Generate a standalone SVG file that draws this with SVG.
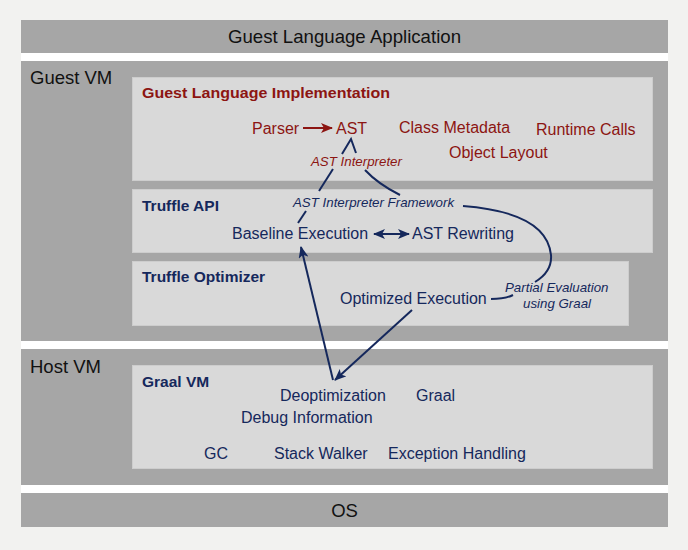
<svg xmlns="http://www.w3.org/2000/svg" width="688" height="550" viewBox="0 0 688 550">
<defs>
<style>
text{font-family:"Liberation Sans",Arial,sans-serif}
.band{fill:#a6a6a6}
.gap{fill:#ffffff}
.box{fill:#d9d9d9;stroke:#cdcdcd;stroke-width:1}
.big{font-size:18.5px;fill:#111}
.red{fill:#8c1512}
.navy{fill:#15285c}
.t15{font-size:16px}
.title{font-size:15.5px;font-weight:bold}
.it{font-size:13.3px;font-style:italic}
.ln{fill:none;stroke:#15285c;stroke-width:2}
.lnr{fill:none;stroke:#8c1512;stroke-width:2}
</style>
<marker id="ah" viewBox="0 0 12 10" refX="11" refY="5" markerWidth="12" markerHeight="10" markerUnits="userSpaceOnUse" orient="auto-start-reverse">
<path d="M0,0 L12,5 L0,10 L3,5 Z" fill="#15285c"/>
</marker>
<marker id="ahr" viewBox="0 0 12 10" refX="11" refY="5" markerWidth="12" markerHeight="10" markerUnits="userSpaceOnUse" orient="auto">
<path d="M0,0 L12,5 L0,10 L3,5 Z" fill="#8c1512"/>
</marker>
</defs>
<rect width="688" height="550" fill="#f2f2f0"/>

<g id="guest-language-application">
<rect class="band" x="21" y="20" width="647" height="33"/>
<text class="big" x="344.5" y="43" text-anchor="middle" textLength="233" lengthAdjust="spacingAndGlyphs">Guest Language Application</text>
</g>
<rect class="gap" x="21" y="53" width="647" height="8"/>

<g id="guest-vm">
<rect class="band" x="21" y="61" width="647" height="280"/>
<text class="big" x="30" y="84">Guest VM</text>
</g>

<g id="guest-language-implementation">
<rect class="box" x="132.5" y="77.5" width="520" height="103"/>
<text class="title red" x="142" y="98" textLength="248" lengthAdjust="spacingAndGlyphs">Guest Language Implementation</text>
<text class="t15 red" x="252" y="134">Parser</text>
<text class="t15 red" x="336" y="134">AST</text>
<text class="t15 red" x="399" y="133">Class Metadata</text>
<text class="t15 red" x="536" y="135">Runtime Calls</text>
<text class="t15 red" x="449" y="158">Object Layout</text>
<text class="it red" x="311" y="166">AST Interpreter</text>
</g>

<g id="truffle-api">
<rect class="box" x="132.5" y="189.5" width="520" height="63"/>
<text class="title navy" x="142" y="211">Truffle API</text>
<text class="it navy" x="293" y="207">AST Interpreter Framework</text>
<text class="t15 navy" x="232" y="239">Baseline Execution</text>
<text class="t15 navy" x="412" y="239">AST Rewriting</text>
</g>

<g id="truffle-optimizer">
<rect class="box" x="132.5" y="261.5" width="496" height="64"/>
<text class="title navy" x="142" y="282">Truffle Optimizer</text>
<text class="t15 navy" x="340" y="304">Optimized Execution</text>
<text class="it navy" x="505" y="292">Partial Evaluation</text>
<text class="it navy" x="523" y="308">using Graal</text>
</g>

<rect class="gap" x="21" y="341" width="647" height="8"/>

<g id="host-vm">
<rect class="band" x="21" y="349" width="647" height="136"/>
<text class="big" x="30" y="373">Host VM</text>
</g>

<g id="graal-vm">
<rect class="box" x="132.5" y="365.5" width="520" height="103"/>
<text class="title navy" x="142" y="387">Graal VM</text>
<text class="t15 navy" x="280" y="401">Deoptimization</text>
<text class="t15 navy" x="416" y="401">Graal</text>
<text class="t15 navy" x="241" y="423">Debug Information</text>
<text class="t15 navy" x="204" y="459">GC</text>
<text class="t15 navy" x="274" y="459">Stack Walker</text>
<text class="t15 navy" x="388" y="459">Exception Handling</text>
</g>

<rect class="gap" x="21" y="485" width="647" height="8"/>

<g id="os">
<rect class="band" x="21" y="493" width="647" height="34"/>
<text class="big" x="344.5" y="517" text-anchor="middle">OS</text>
</g>

<g id="connectors">
<path class="lnr" d="M303,128 L332,128" marker-end="url(#ahr)"/>
<path class="ln" d="M298,223 L306,211"/>
<path class="ln" d="M319,191 L333,169"/>
<path class="ln" d="M342,154 L351,139 L356,153"/>
<path class="ln" d="M365,170 Q378,184 400,195"/>
<path class="ln" d="M463,206 C515,210 548,225 551,255 C552,268 545,276 535,282"/>
<path class="ln" d="M513,295 Q505,299 491,299"/>
<path class="ln" d="M374,234 L409,234" marker-start="url(#ah)" marker-end="url(#ah)"/>
<path class="ln" d="M333,380 L301,247" marker-end="url(#ah)"/>
<path class="ln" d="M412,310 L335,380" marker-end="url(#ah)"/>
</g>
</svg>
